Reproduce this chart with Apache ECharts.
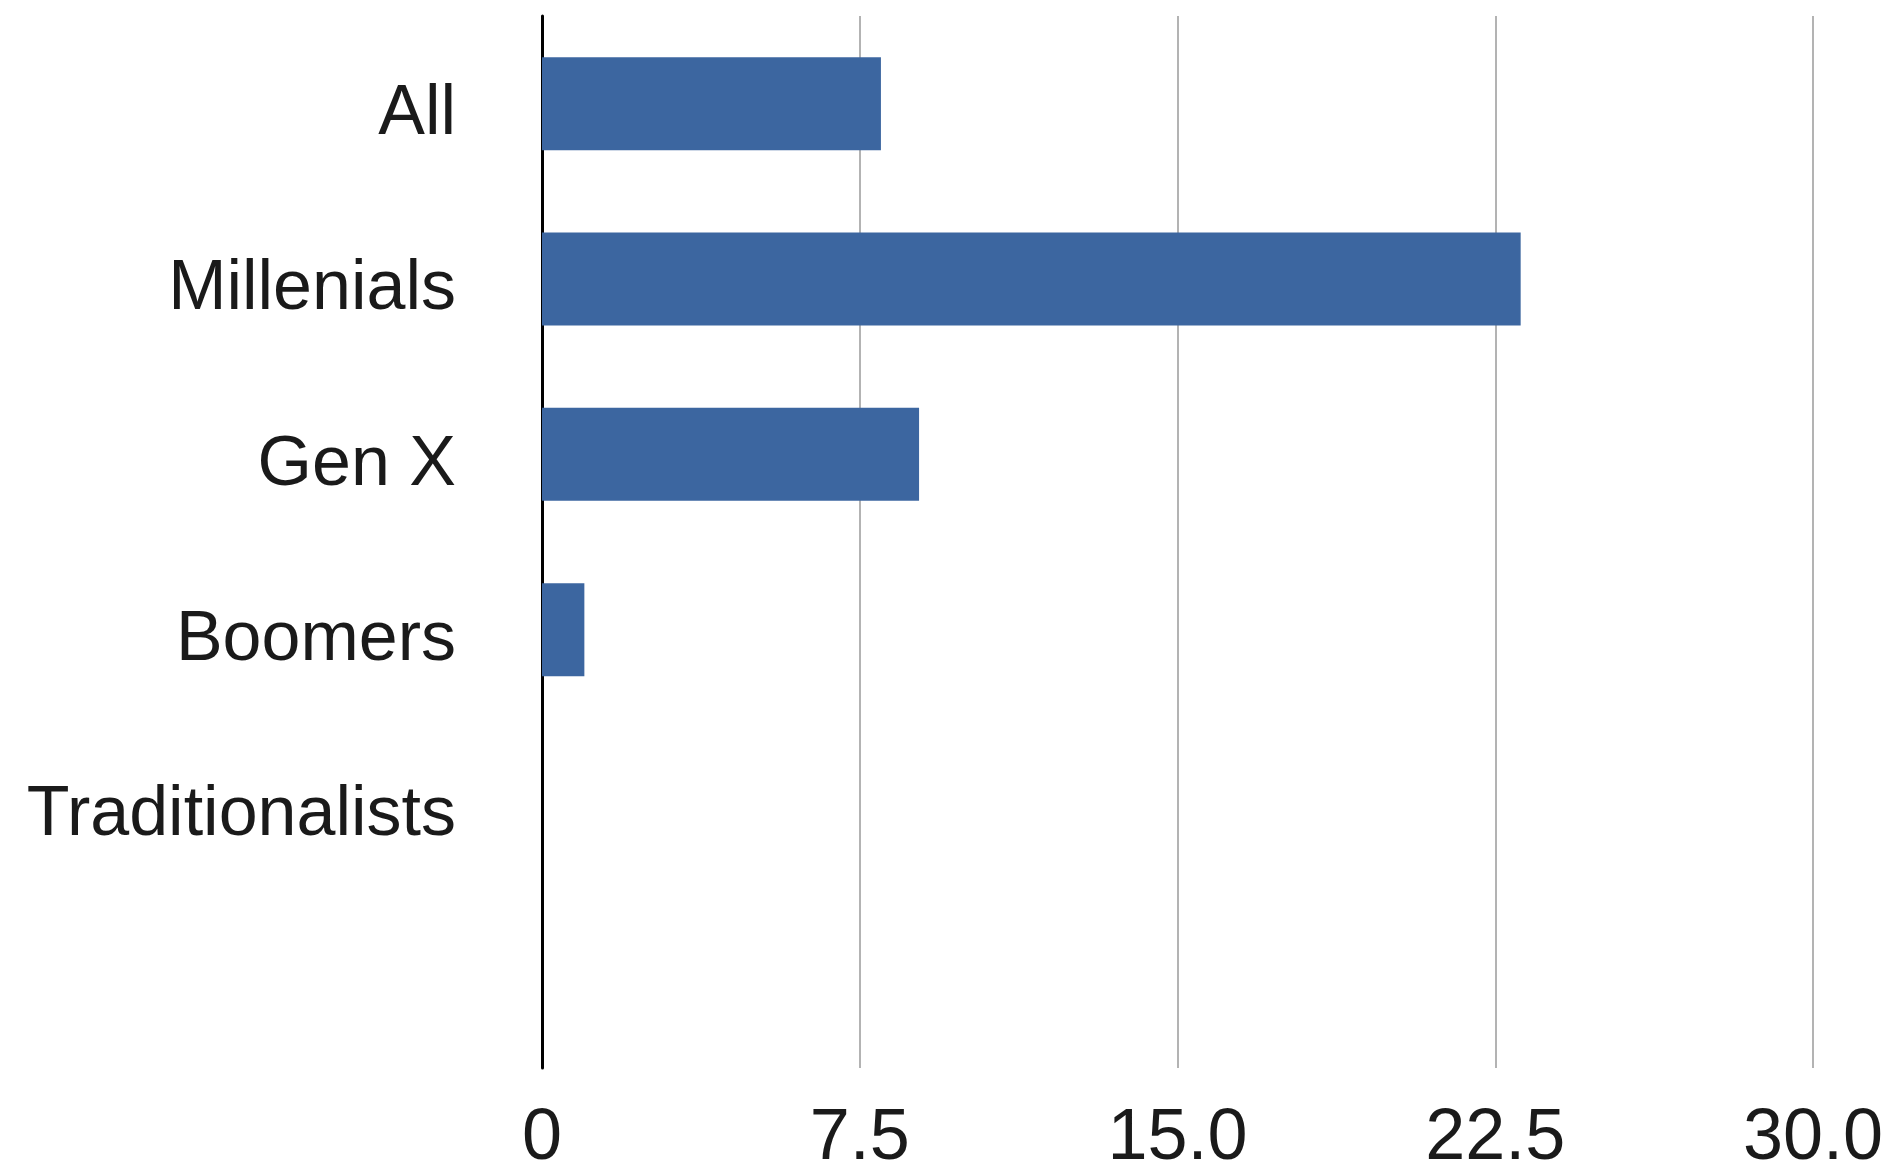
<!DOCTYPE html>
<html>
<head>
<meta charset="utf-8">
<script src="https://cdn.jsdelivr.net/npm/echarts@6/dist/echarts.min.js"></script>
<style>
html,body{margin:0;padding:0;background:#fff;}
#chart{width:1889px;height:1175px;}
</style>
</head>
<body>
<div id="chart"></div>
<script>
const categories = ['All', 'Millenials', 'Gen X', 'Boomers', 'Traditionalists', ''];
const values = [8.0, 23.1, 8.9, 1.0, 0, null];
const tickMin = 0, tickMax = 30, tickStep = 7.5;

const chart = echarts.init(document.getElementById('chart'));
chart.setOption({
  animation: false,
  backgroundColor: '#ffffff',
  grid: { left: 542, right: 76, top: 16, bottom: 104, containLabel: false },
  xAxis: {
    type: 'value', min: tickMin, max: tickMax, interval: tickStep,
    axisLine: { show: false }, axisTick: { show: false },
    splitLine: { show: true, lineStyle: { color: '#b3b3b3', width: 2 } },
    axisLabel: {
      margin: 44, fontSize: 72, lineHeight: 54, fontFamily: 'Liberation Sans, Arial, sans-serif', color: '#1a1a1a',
      formatter: v => v === 0 ? '0' : v.toFixed(1)
    }
  },
  yAxis: {
    type: 'category', data: categories, inverse: true,
    axisLine: { show: true, lineStyle: { color: '#000', width: 3 } },
    axisTick: { show: false },
    splitLine: { show: false },
    axisLabel: {
      margin: 86, fontSize: 70, fontFamily: 'Liberation Sans, Arial, sans-serif', color: '#1a1a1a',
      formatter: v => v ? '{a|' + v + '}' : '',
      rich: { a: { fontSize: 70, fontFamily: 'Liberation Sans, Arial, sans-serif', color: '#1a1a1a', padding: [22, 0, 0, 0] } }
    }
  },
  series: [{
    type: 'bar', data: values, barWidth: '53%',
    itemStyle: { color: '#3c66a0' }
  }]
});
</script>
</body>
</html>
